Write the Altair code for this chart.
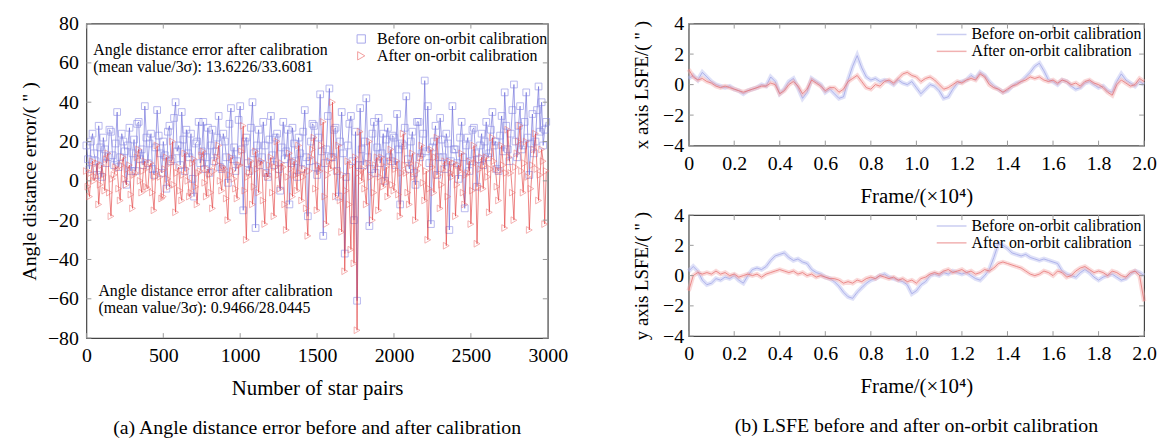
import altair as alt
import pandas as pd

FONT = "Liberation Serif"
SERIES = ["Before on-orbit calibration", "After on-orbit calibration"]

# ---------------- (a) angle distance error (sampled every 10 star pairs) ----------------
star_pairs = list(range(0, 3000, 10))
err_before = [
    18, 11, 6, 20, 24, 14, 10, 3, 28, 17, 2, 22, 16, 9, 12, 26, 25, 13, 8, 19,
    35, 7, 12, 24, 20, 15, -2, 18, 27, 5, 14, 21, 5, 29, 30, 11, 16, 8, 38, 22,
    9, 19, 24, 6, 3, 17, 36, 23, 14, 4, 20, 13, -4, 25, 28, 10, 11, 32, 40, 15,
    18, 8, 35, 21, 5, 26, 14, 12, 24, 1, -8, 19, 20, 30, 9, 15, 30, 6, 12, 27,
    4, 18, 26, 10, 15, 22, 33, 7, 6, 24, 20, 12, -1, 29, 37, 11, 17, 5, 10, 31,
    38, 16, -15, 20, 22, 9, 5, 27, 40, 14, -24, 18, 26, 8, 12, 30, 18, 4, 2, 21,
    33, 13, 8, 22, 24, 6, -5, 17, 30, 11, 15, 26, -12, 9, 27, 19, 10, 2, 22, 14,
    6, 25, 36, 12, -18, 10, 20, 29, 28, 7, 3, 22, 44, 15, -28, 9, 16, 33, 47, 12,
    12, 26, 27, 5, -8, 20, 35, 14, -37, 2, 18, 29, 33, 10, -20, 25, -61, 8, 37, 16,
    8, 20, 42, 12, -23, 6, 24, 30, 4, 17, 32, 9, 14, 24, 0, 21, 27, 12, 10, 23,
    22, 8, 34, 16, -12, 19, 18, 27, 43, 11, 6, 20, 25, 4, -2, 30, 30, 12, 14, 24,
    51, 15, 38, 9, -22, 17, 20, 28, 3, 12, 32, 21, 12, 6, 24, 19, -25, 10, 38, 16,
    16, 9, 1, 22, 30, 12, -14, 18, 22, 5, 10, 26, 27, 14, -3, 11, 18, 24, 8, 20,
    30, 12, 14, 26, 35, 18, 20, 6, 5, 23, 33, 15, 45, 28, 16, 10, 24, 36, 49, 20,
    12, 28, 38, 16, 18, 30, 45, 22, 3, 19, 34, 14, 20, 36, 48, 25, 40, 18, 26, 30,
]
err_after = [
    5, -3, -8, 4, 10, 0, 2, 9, -12, -2, 8, 3, -5, 11, 14, -6, -18, 1, 3, 7,
    6, -4, -10, 8, 12, 1, -2, 6, 8, -7, -14, 3, 4, 12, 16, 0, -6, 5, 10, -3,
    -4, 7, 9, -6, -15, 2, 18, 5, 2, -9, -8, 6, 12, 1, -3, 9, 20, -2, -16, 4,
    7, -5, -10, 3, 14, 6, 0, -8, -6, 9, 11, -3, -12, 4, 5, 13, 15, -1, -8, 6,
    3, -6, -14, 5, 9, 12, 18, 0, -5, 7, 6, -9, -20, 3, 12, 5, 1, -4, -9, 8,
    8, 15, 28, -5, -30, 2, 4, 10, -12, -3, 15, 6, -6, 9, 10, -10, -22, 4, 2, 8,
    12, -6, -18, 7, 20, 3, -4, 9, 7, -12, -25, 2, 14, 6, -8, 10, 3, -5, 18, 4,
    -10, 2, 6, -14, -28, 5, 12, 16, 22, -4, -15, 8, 5, 18, 30, -8, -22, 3, 10, 6,
    40, 12, -8, 5, 18, -10, -26, 3, -46, -5, 10, -12, -35, 8, -42, 12, -76, 4, 25, 0,
    6, -4, -12, 9, 20, 2, -20, -6, 8, 12, -15, 2, 12, -3, 0, 7, -8, 10, 16, -2,
    -5, 6, 10, -7, -18, 4, 24, 8, 4, -6, -12, 9, 14, 2, -20, 5, 8, 12, 18, -1,
    -10, 5, -30, -4, 16, 7, -6, 12, 22, 3, -14, -2, 6, 10, -33, -8, 10, 4, 2, 9,
    -18, -2, 8, 5, 14, -6, -12, 3, 4, 10, -22, -5, 18, 9, -32, -3, 6, 12, -4, 8,
    12, 2, -16, 6, 22, 10, 6, -3, -10, 5, 18, 8, -24, 4, 26, 12, 4, -6, -20, 7,
    14, 20, 28, 5, -6, 9, 20, 2, -25, -4, 8, 16, 24, 6, -10, 3, 16, 10, -22, 5,
]
xticks_a = [0, 500, 1000, 1500, 2000, 2500, 3000]
yticks_a = [-80, -60, -40, -20, 0, 20, 40, 60, 80]
ann_text = [
    "Angle distance error after calibration",
    "(mean value/3σ): 13.6226/33.6081",
    "Angle distance error after calibration",
    "(mean value/3σ): 0.9466/28.0445",
]
ann_n = [45, 45, 78, 78]
ann_err = [66.5, 58, -56, -64.5]

# ---------------- (b) LSFE (frames x 10^4, sampled every 0.02) ----------------
frames = [round(i * 0.02, 2) for i in range(101)]
x_before = [
    0.4, 0.6, 0.3, 0.8, 0.5, 0.2, 0.0, -0.1, -0.2, -0.1,
    -0.3, -0.4, -0.6, -0.4, -0.3, -0.2, 0.0, -0.1, 0.5, 0.2,
    -0.6, -0.3, 0.2, 0.4, -0.2, -0.9, -0.5, 0.4, 0.2, 0.0,
    -0.5, -0.3, -0.6, -0.9, -0.8, 0.3, 1.2, 1.9, 1.1, 0.5,
    0.3, 0.4, 0.2, 0.3, 0.2, 0.0, 0.3, 0.1, 0.0, 0.2,
    -0.2, -0.6, -0.3, 0.0, -0.1, -0.4, -0.9, -0.8, -0.3, 0.1,
    0.2, 0.3, 0.6, 0.4, 0.8, 0.6, 0.2, -0.1, -0.3, -0.5,
    -0.4, -0.1, 0.1, 0.2, 0.5, 0.8, 1.2, 1.4, 0.9, 0.3,
    0.2, 0.0, 0.3, 0.2, -0.1, -0.3, -0.2, 0.1, 0.2, 0.0,
    -0.2, -0.1, -0.4, -0.5, 0.2, 0.7, 0.3, 0.1, -0.1, 0.2,
    0.0,
]
x_after = [
    1.0, 0.5, 0.3, 0.4, 0.2, 0.1, -0.1, -0.2, -0.1, -0.2,
    -0.3, -0.4, -0.5, -0.4, -0.3, -0.2, -0.1, -0.1, 0.1, 0.0,
    -0.6, -0.4, 0.0, 0.2, -0.1, -0.6, -0.3, 0.3, 0.1, -0.1,
    -0.4, -0.2, -0.2, -0.5, -0.3, 0.2, 0.4, 0.6, 0.2, -0.2,
    -0.3, 0.0, -0.1, 0.2, 0.3, 0.1, 0.4, 0.7, 0.8, 0.6,
    0.5, 0.2, 0.4, 0.5, 0.3, 0.0, -0.3, -0.2, 0.0, 0.2,
    0.1, 0.3, 0.4, 0.3, 0.7, 0.5, 0.0, -0.2, -0.3, -0.5,
    -0.3, -0.1, 0.0, 0.2, 0.3, 0.5, 0.4, 0.5, 0.3, 0.2,
    0.3, 0.1, 0.3, 0.2, 0.0, 0.1, -0.1, 0.2, 0.3, 0.1,
    0.0, -0.2, -0.5, -0.7, 0.0, 0.3, 0.1, -0.1, 0.0, 0.4,
    0.2,
]
y_before = [
    0.3, 0.6, 0.3, -0.3, -0.6, -0.5, -0.2, -0.3, -0.1, -0.2,
    0.0, -0.3, -0.5, 0.0, 0.4, 0.5, 0.4, 0.6, 1.0, 1.3,
    1.4, 1.5, 1.2, 1.0, 1.1, 0.9, 0.8, 0.4, 0.2, 0.1,
    -0.1, -0.2, -0.4, -0.7, -1.1, -1.4, -1.5, -1.1, -0.8, -0.5,
    -0.3, -0.2, 0.0, 0.1, -0.1, -0.2, -0.3, -0.4, -0.6, -1.2,
    -1.0, -0.6, -0.4, 0.0, 0.1, 0.0, 0.2, 0.1, 0.3, 0.2,
    0.1, 0.2, 0.0, -0.2, -0.3, 0.0, 0.4, 1.2, 2.1, 2.0,
    1.8, 1.5, 1.4, 1.3, 1.4, 1.2, 1.1, 1.0, 1.1, 1.0,
    0.9, 0.8, 0.3, 0.1, 0.0, -0.1, 0.2, 0.4, 0.2, -0.1,
    -0.3, -0.1, 0.0, 0.1, -0.1, -0.3, -0.2, 0.1, 0.3, 0.2,
    0.0,
]
y_after = [
    -1.0, 0.0, 0.2, 0.1, 0.2, 0.1, 0.3, 0.1, 0.2, 0.0,
    0.1, -0.1, 0.0, 0.1, 0.0, 0.1, -0.1, 0.1, 0.2, 0.3,
    0.4, 0.3, 0.2, 0.3, 0.1, 0.2, 0.0, 0.1, -0.1, 0.0,
    -0.1, -0.2, -0.2, -0.3, -0.5, -0.4, -0.5, -0.3, -0.4, -0.2,
    -0.1, -0.2, 0.0, -0.1, -0.2, -0.1, -0.3, -0.2, -0.4, -0.3,
    -0.5, -0.2, -0.1, 0.1, 0.2, 0.1, 0.3, 0.4, 0.2, 0.3,
    0.4, 0.2, 0.3, 0.1, 0.2, 0.4, 0.3, 0.5, 0.8, 0.9,
    0.8, 0.7, 0.6, 0.5, 0.3, 0.1, 0.0, 0.1, 0.3, 0.2,
    0.0, 0.3, 0.2, -0.1, 0.0, 0.3, 0.5, 0.6, 0.4, 0.2,
    0.3, 0.2, 0.0, 0.3, 0.2, 0.0, -0.1, 0.2, 0.3, 0.0,
    -1.7,
]
xticks_b = [0, 0.2, 0.4, 0.6, 0.8, 1.0, 1.2, 1.4, 1.6, 1.8, 2.0]
yticks_b = [-4, -2, 0, 2, 4]

TICK = "#9a9a9a"
TL = 5

# ================= panel (a) =================
WA, HA = 465, 317
sx_a = alt.Scale(domain=[0, 3000], nice=False, zero=False, padding=0)
sy_a = alt.Scale(domain=[-80, 80], nice=False, zero=False, padding=0)
axx_a = alt.Axis(values=xticks_a, format="d", title="Number of star pairs", labelFlush=False,
                 labelFontSize=20, titleFontSize=21, labelPadding=8, titlePadding=12)
axy_a = alt.Axis(values=yticks_a, title='Angle distance error/( " )', labelFlush=False,
                 labelFontSize=20, titleFontSize=20, labelPadding=8, titlePadding=8)


def xa(field="n"):
    return alt.X(f"{field}:Q", scale=sx_a, axis=axx_a)


def ya(field="err"):
    return alt.Y(f"{field}:Q", scale=sy_a, axis=axy_a)


leg_a = alt.Legend(title=None, orient="none", legendX=269, legendY=8, padding=0,
                   labelFontSize=16, labelLimit=400, symbolSize=70, symbolStrokeWidth=1,
                   labelOffset=8, rowPadding=0, clipHeight=15)
col_a = alt.Color("series:N", scale=alt.Scale(domain=SERIES, range=["#8080e2", "#ec7070"]), legend=leg_a)
shp_a = alt.Shape("series:N", scale=alt.Scale(domain=SERIES, range=["square", "triangle-right"]), legend=leg_a)

df_b = pd.DataFrame({"n": star_pairs, "err": err_before, "series": SERIES[0]})
df_r = pd.DataFrame({"n": star_pairs, "err": err_after, "series": SERIES[1]})

line_b = alt.Chart(df_b).mark_line(color="#5555d4", strokeWidth=0.9, opacity=0.62).encode(x=xa(), y=ya())
pts_b = alt.Chart(df_b).mark_point(filled=False, size=46, strokeWidth=0.8, opacity=0.68).encode(
    x=xa(), y=ya(), color=col_a, shape=shp_a)
line_r = alt.Chart(df_r).mark_line(color="#e03030", strokeWidth=0.9, opacity=0.66).encode(x=xa(), y=ya())
pts_r = alt.Chart(df_r).mark_point(filled=False, size=46, strokeWidth=0.8, opacity=0.68).encode(
    x=xa(), y=ya(), color=col_a, shape=shp_a)

ann = alt.Chart(pd.DataFrame({"n": ann_n, "err": ann_err, "text": ann_text})).mark_text(
    align="left", baseline="middle", font=FONT, fontSize=16, color="black").encode(
    x=xa(), y=ya(), text="text:N")

tx_a = pd.DataFrame({"n": xticks_a})
ty_a = pd.DataFrame({"err": yticks_a})
ticks_a = [
    alt.Chart(tx_a).mark_rule(color=TICK).encode(x=xa(), y=alt.value(HA), y2=alt.value(HA - TL)),
    alt.Chart(tx_a).mark_rule(color=TICK).encode(x=xa(), y=alt.value(0), y2=alt.value(TL)),
    alt.Chart(ty_a).mark_rule(color=TICK).encode(y=ya(), x=alt.value(0), x2=alt.value(TL)),
    alt.Chart(ty_a).mark_rule(color=TICK).encode(y=ya(), x=alt.value(WA), x2=alt.value(WA - TL)),
]

CAP = dict(orient="bottom", fontSize=20, offset=20, frame="group", anchor="middle")

left = alt.layer(line_b, pts_b, line_r, pts_r, ann, *ticks_a).properties(
    width=WA, height=HA,
    title=alt.TitleParams("(a) Angle distance error before and after calibration", **CAP))

# ================= panel (b) =================
WB = 459
sx_b = alt.Scale(domain=[0, 2.0], nice=False, zero=False, padding=0)
sy_b = alt.Scale(domain=[-4, 4], nice=False, zero=False, padding=0)
axx_b = alt.Axis(values=xticks_b, title="Frame/(×10⁴)", labelFlush=False,
                 labelExpr="datum.value == 0 ? '0' : format(datum.value, '.1f')",
                 labelFontSize=20, titleFontSize=21, labelPadding=8, titlePadding=12)


def lsfe_panel(before, after, ytitle, h, caption=None):
    axy = alt.Axis(values=yticks_b, title=ytitle, labelFlush=False,
                   labelFontSize=20, titleFontSize=19, labelPadding=5, titlePadding=11)
    x = alt.X("f:Q", scale=sx_b, axis=axx_b)
    y = alt.Y("v:Q", scale=sy_b, axis=axy)
    leg = alt.Legend(title=None, orient="none", legendX=249, legendY=3, padding=0,
                     labelFontSize=16, labelLimit=400, symbolType="stroke", symbolSize=900,
                     symbolStrokeWidth=1.5, symbolOpacity=0.55, labelOffset=4,
                     rowPadding=1, clipHeight=16)
    col = alt.Color("series:N", scale=alt.Scale(domain=SERIES, range=["#9ea4e6", "#e67272"]), legend=leg)
    dfb = pd.DataFrame({"f": frames, "v": before, "series": SERIES[0]})
    dfa = pd.DataFrame({"f": frames, "v": after, "series": SERIES[1]})
    wide_b = alt.Chart(dfb).mark_line(color="#b8bcf0", strokeWidth=4.5, opacity=0.45).encode(x=x, y=y)
    thin_b = alt.Chart(dfb).mark_line(strokeWidth=0.9, opacity=0.85).encode(x=x, y=y, color=col)
    wide_a = alt.Chart(dfa).mark_line(color="#f4aaaa", strokeWidth=4.5, opacity=0.45).encode(x=x, y=y)
    thin_a = alt.Chart(dfa).mark_line(strokeWidth=0.9, opacity=0.85).encode(x=x, y=y, color=col)
    tx = pd.DataFrame({"f": xticks_b})
    ty = pd.DataFrame({"v": yticks_b})
    ticks = [
        alt.Chart(tx).mark_rule(color=TICK).encode(x=x, y=alt.value(h), y2=alt.value(h - TL)),
        alt.Chart(tx).mark_rule(color=TICK).encode(x=x, y=alt.value(0), y2=alt.value(TL)),
        alt.Chart(ty).mark_rule(color=TICK).encode(y=y, x=alt.value(0), x2=alt.value(TL)),
        alt.Chart(ty).mark_rule(color=TICK).encode(y=y, x=alt.value(WB), x2=alt.value(WB - TL)),
    ]
    props = dict(width=WB, height=h)
    if caption:
        props["title"] = alt.TitleParams(caption, **CAP)
    return alt.layer(wide_b, thin_b, wide_a, thin_a, *ticks).properties(**props)


top = lsfe_panel(x_before, x_after, 'x axis LSFE/( " )', 123)
bot = lsfe_panel(y_before, y_after, 'y axis LSFE/( " )', 122,
                 caption="(b) LSFE before and after on-orbit calibration")

right = alt.vconcat(top, bot, spacing=70, bounds="flush").resolve_scale(color="independent")

chart = alt.hconcat(left, right, spacing=142, bounds="flush").resolve_scale(
    color="independent", shape="independent"
).properties(
    padding={"left": 11, "top": 3, "right": 0, "bottom": 0}
).configure_view(
    stroke="#444", strokeWidth=1.2
).configure_axis(
    labelFont=FONT, titleFont=FONT, labelColor="black", titleColor="black",
    titleFontWeight="normal", grid=False, domain=False, ticks=False
).configure_legend(
    labelFont=FONT, labelColor="black"
).configure_title(
    font=FONT, fontWeight="normal", color="black"
)

chart.save("out.html", embed_options={"renderer": "svg", "actions": False})
